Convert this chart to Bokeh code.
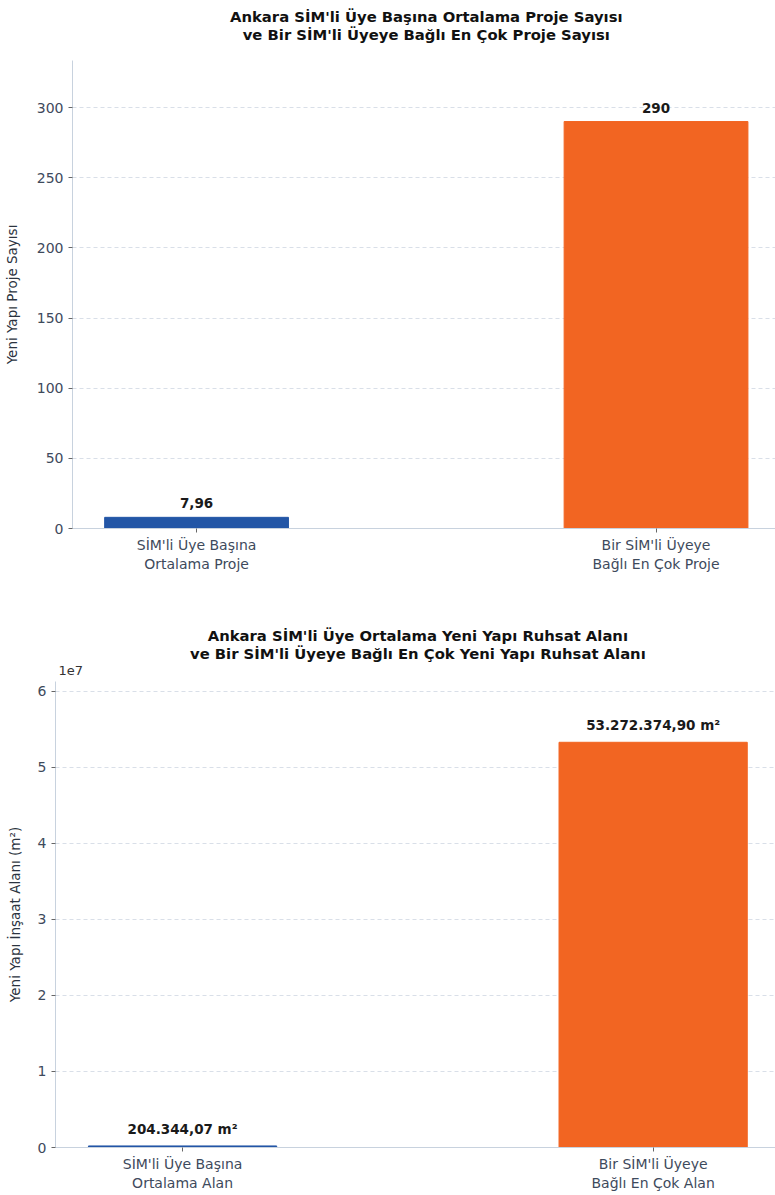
from bokeh.plotting import figure
from bokeh.models import Range1d, LabelSet, FixedTicker, CustomJSTickFormatter, ColumnDataSource
from bokeh.embed import file_html
from bokeh.resources import INLINE
from bokeh.core.properties import value

# ---------------- data ----------------
categories_top = ["SİM'li Üye Başına\nOrtalama Proje", "Bir SİM'li Üyeye\nBağlı En Çok Proje"]
values_top = [7.96, 290]
categories_bottom = ["SİM'li Üye Başına\nOrtalama Alan", "Bir SİM'li Üyeye\nBağlı En Çok Alan"]
values_bottom = [204344.07, 53272374.90]
bar_colors = ["#2356a6", "#f26522"]
title_top = ["Ankara SİM'li Üye Başına Ortalama Proje Sayısı",
             "ve Bir SİM'li Üyeye Bağlı En Çok Proje Sayısı"]
title_bottom = ["Ankara SİM'li Üye Ortalama Yeni Yapı Ruhsat Alanı",
                "ve Bir SİM'li Üyeye Bağlı En Çok Yeni Yapı Ruhsat Alanı"]
ylabel_top = "Yeni Yapı Proje Sayısı"
ylabel_bottom = "Yeni Yapı İnşaat Alanı (m²)"
yticks_top = [0, 50, 100, 150, 200, 250, 300]
yticks_bottom = [0, 1e7, 2e7, 3e7, 4e7, 5e7, 6e7]
offset_text_bottom = "1e7"

FONT = "DejaVu Sans"
TICK_COLOR = "#3e4a5c"
SPINE = "#c8d2de"
GRID = "#d9dfe8"
TITLE_SIZE = "14.8px"
W = 775
X0, X1 = -0.27, 1.26


def tr_num(v, decimals):
    s = f"{v:,.{decimals}f}"
    return s.replace(",", "X").replace(".", ",").replace("X", ".")


def title_fig(lines, height, b_left, first_y, spacing, offset_text=None, offset_y=None):
    frame_w = W - b_left
    cx = b_left + (0.5 - X0) / (X1 - X0) * frame_w
    t = figure(width=W, height=height, output_backend="svg", toolbar_location=None,
               x_range=Range1d(0, W), y_range=Range1d(height, 0),
               x_axis_type=None, y_axis_type=None,
               min_border=0, min_border_left=0, min_border_right=0,
               min_border_top=0, min_border_bottom=0)
    t.outline_line_color = None
    t.background_fill_color = "white"
    t.border_fill_color = "white"
    t.title.text = ""
    t.text(x=[cx] * len(lines), y=[first_y + i * spacing for i in range(len(lines))],
           text=lines, text_align="center", text_baseline="middle",
           text_font=value(FONT), text_font_size=TITLE_SIZE, text_font_style="bold",
           text_color="#111111")
    if offset_text:
        t.text(x=[b_left + 3], y=[offset_y], text=[offset_text], text_align="left",
               text_baseline="middle", text_font=value(FONT), text_font_size="13px",
               text_color="#333333")
    return t


def build(cats, vals, labels, ylabel, yticks, height, b_top, b_bottom, b_left,
          label_standoff, formatter=None):
    xs = list(range(len(cats)))
    ymax = max(vals) * 1.15
    p = figure(width=W, height=height, output_backend="svg", toolbar_location=None,
               x_range=Range1d(X0, X1), y_range=Range1d(0, ymax),
               min_border_top=b_top, min_border_bottom=b_bottom,
               min_border_left=b_left, min_border_right=0)
    p.outline_line_color = None
    p.background_fill_color = "white"
    p.border_fill_color = "white"
    p.title.text = ""

    src = ColumnDataSource(dict(x=xs, top=vals, color=bar_colors, label=labels))
    p.vbar(x="x", top="top", width=0.4, color="color", source=src)
    p.add_layout(LabelSet(x="x", y="top", text="label", source=src, y_offset=9,
                          text_align="center", text_baseline="bottom",
                          text_font=value(FONT), text_font_size="13.5px",
                          text_font_style="bold", text_color="#1a1a1a"))

    # x axis
    xa = p.xaxis[0]
    xa.ticker = FixedTicker(ticks=xs)
    xa.major_label_overrides = {i: c for i, c in zip(xs, cats)}
    xa.major_label_text_font = FONT
    xa.major_label_text_font_size = "14px"
    xa.major_label_text_color = TICK_COLOR
    xa.major_label_standoff = 4
    xa.major_tick_out = 4
    xa.major_tick_in = 0
    xa.minor_tick_out = 0
    xa.minor_tick_in = 0
    xa.major_tick_line_color = "#666666"
    xa.axis_line_color = SPINE

    # y axis
    ya = p.yaxis[0]
    ya.ticker = FixedTicker(ticks=yticks)
    if formatter is not None:
        ya.formatter = formatter
    ya.major_label_text_font = FONT
    ya.major_label_text_font_size = "14px"
    ya.major_label_text_color = TICK_COLOR
    ya.major_label_standoff = 5
    ya.major_tick_out = 4
    ya.major_tick_in = 0
    ya.minor_tick_out = 0
    ya.minor_tick_in = 0
    ya.major_tick_line_color = "#666666"
    ya.axis_line_color = SPINE
    ya.axis_label = ylabel
    ya.axis_label_text_font = FONT
    ya.axis_label_text_font_size = "13.5px"
    ya.axis_label_text_font_style = "normal"
    ya.axis_label_text_color = "#2b3340"
    ya.axis_label_standoff = label_standoff

    p.xgrid.visible = False
    p.ygrid.ticker = FixedTicker(ticks=yticks)
    p.ygrid.grid_line_color = GRID
    p.ygrid.grid_line_dash = "4 3"
    p.ygrid.grid_line_width = 1
    return p


labels_top = [f"{v:g}".replace(".", ",") for v in values_top]
labels_bottom = [tr_num(v, 2) + " m²" for v in values_bottom]

t1 = title_fig(title_top, height=48, b_left=72, first_y=16, spacing=17.5)
p1 = build(categories_top, values_top, labels_top, ylabel_top, yticks_top,
           height=547, b_top=12, b_bottom=67, b_left=72, label_standoff=14)

t2 = title_fig(title_bottom, height=82, b_left=55, first_y=40, spacing=17.5,
               offset_text=offset_text_bottom, offset_y=75)
fmt = CustomJSTickFormatter(code="return (tick / 1e7).toFixed(0);")
p2 = build(categories_bottom, values_bottom, labels_bottom, ylabel_bottom, yticks_bottom,
           height=516, b_top=4, b_bottom=45, b_left=55, label_standoff=12,
           formatter=fmt)

open("out.html", "w").write(file_html([t1, p1, t2, p2], INLINE))
